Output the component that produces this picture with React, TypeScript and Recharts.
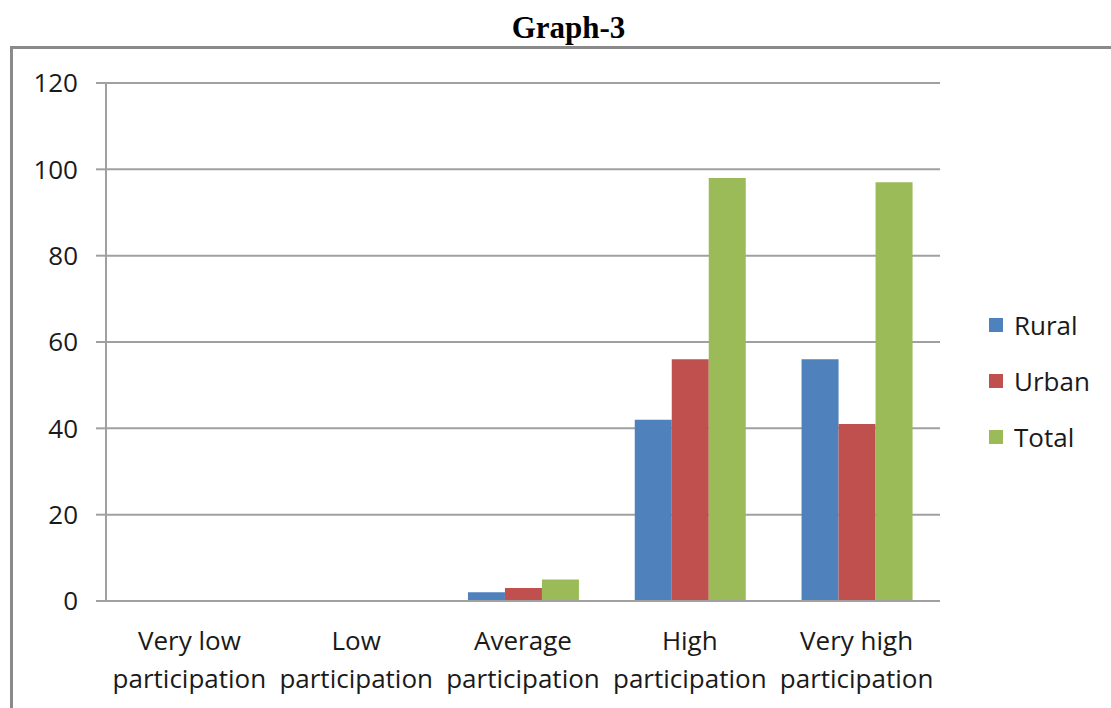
import React from "react";
import { BarChart, Bar, XAxis, YAxis, CartesianGrid } from "recharts";

const categories = [
  "Very low participation",
  "Low participation",
  "Average participation",
  "High participation",
  "Very high participation",
];
const rural = [0, 0, 2, 42, 56];
const urban = [0, 0, 3, 56, 41];
const total = [0, 0, 5, 98, 97];
const yTicks = [0, 20, 40, 60, 80, 100, 120];
const boundaryTicks = [0, 1, 2, 3, 4, 5];

const seriesDefs = [
  { key: "rural", name: "Rural", color: "#4F81BD" },
  { key: "urban", name: "Urban", color: "#C0504D" },
  { key: "total", name: "Total", color: "#9BBB59" },
];

const data = categories.map((c, i) => ({
  name: c,
  rural: rural[i],
  urban: urban[i],
  total: total[i],
}));

const FONT = "'Open Sans', sans-serif";
const GRID = "#a0a0a0";

const CatTick = (props: any) => {
  const { x, y, payload } = props;
  const words = String(payload.value).split(" ");
  const first = words.slice(0, words.length - 1).join(" ");
  const last = words[words.length - 1];
  return (
    <g>
      <text x={x} y={y + 40} textAnchor="middle" fontFamily={FONT} fontSize={26} fill="#1a1a1a">
        {first}
      </text>
      <text x={x} y={y + 78} textAnchor="middle" fontFamily={FONT} fontSize={26} fill="#1a1a1a">
        {last}
      </text>
    </g>
  );
};

export default function App() {
  return (
    <div style={{ position: "absolute", left: 0, top: 0, width: 1111, height: 708, background: "#fff", overflow: "hidden" }}>
      <div
        style={{
          position: "absolute",
          left: 0,
          top: 8,
          width: 1137,
          textAlign: "center",
          fontFamily: "'Liberation Serif', 'Times New Roman', serif",
          fontWeight: "bold",
          fontSize: 31,
          lineHeight: "40px",
          color: "#000",
        }}
      >
        Graph-3
      </div>
      <div
        style={{
          position: "absolute",
          left: 10,
          top: 46,
          width: 1200,
          height: 800,
          borderLeft: "3px solid #8a8a8a",
          borderTop: "3px solid #8a8a8a",
        }}
      />
      <div style={{ position: "absolute", left: 0, top: 0 }}>
        <BarChart
          width={1111}
          height={708}
          data={data}
          margin={{ top: 83, right: 171, bottom: 16, left: 26 }}
          barCategoryGap="17%"
          barGap={0}
        >
          <CartesianGrid vertical={false} horizontal={true} stroke={GRID} strokeWidth={2} xAxisId="a" />
          <XAxis
            xAxisId="a"
            type="number"
            domain={[0, 5]}
            ticks={boundaryTicks}
            tick={false}
            height={1}
            axisLine={{ stroke: GRID, strokeWidth: 2 }}
            tickLine={{ stroke: GRID, strokeWidth: 2 }}
            tickSize={10}
            allowDataOverflow
          />
          <XAxis
            xAxisId="b"
            dataKey="name"
            type="category"
            height={90}
            axisLine={false}
            tickLine={false}
            tick={<CatTick />}
            interval={0}
          />
          <YAxis
            width={80}
            domain={[0, 120]}
            ticks={yTicks}
            axisLine={{ stroke: GRID, strokeWidth: 2 }}
            tickLine={{ stroke: GRID, strokeWidth: 2 }}
            tickSize={10}
            tickMargin={18}
            tick={{ fontFamily: FONT, fontSize: 26, fill: "#1a1a1a" }}
          />
          {seriesDefs.map((s) => (
            <Bar
              key={s.key}
              xAxisId="b"
              dataKey={s.key}
              name={s.name}
              fill={s.color}
              isAnimationActive={false}
            />
          ))}
        </BarChart>
      </div>
      <div style={{ position: "absolute", left: 989, top: 297 }}>
        {seriesDefs.map((s) => (
          <div key={s.key} style={{ display: "flex", alignItems: "center", height: 56 }}>
            <div style={{ width: 14, height: 14, background: s.color, marginRight: 11 }} />
            <span style={{ fontFamily: FONT, fontSize: 26, color: "#1a1a1a", lineHeight: "34px" }}>{s.name}</span>
          </div>
        ))}
      </div>
    </div>
  );
}
